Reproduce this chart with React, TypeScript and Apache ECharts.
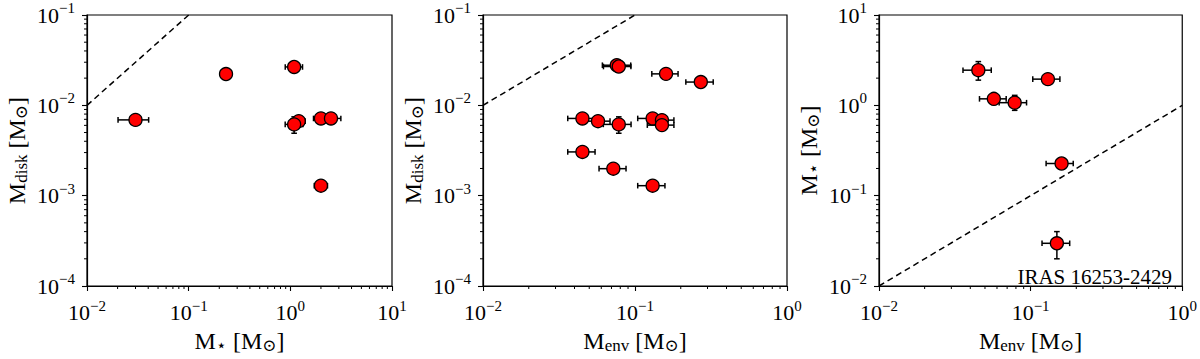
import React, { useEffect, useRef } from "react";
import * as echarts from "echarts";

const FONT = "'Liberation Serif', 'DejaVu Serif', 'Times New Roman', serif";

// ---------- Panel 1: M_star vs M_disk ----------
const P1_MSTAR = [0.03, 0.233, 1.09, 1.21, 1.09, 2.0, 2.51, 2.0];
const P1_MDISK = [0.0069, 0.0222, 0.0266, 0.00668, 0.00615, 0.00716, 0.00716, 0.00129];
const P1_MSTAR_LO = [0.0202, null, 0.891, 1.02, 0.89, 1.69, 2.12, 1.72];
const P1_MSTAR_HI = [0.0404, null, 1.318, 1.4, 1.33, 2.3, 3.14, 2.32];
const P1_MDISK_LO = [null, null, null, null, 0.00491, null, null, 0.00113];
const P1_MDISK_HI = [null, null, null, null, 0.00746, null, null, 0.00147];

// ---------- Panel 2: M_env vs M_disk ----------
const P2_MENV = [0.0759, 0.0782, 0.16, 0.271, 0.0451, 0.0571, 0.0782, 0.1306, 0.1504, 0.1504, 0.0451, 0.072, 0.1306];
const P2_MDISK = [0.0278, 0.0269, 0.0223, 0.0181, 0.00716, 0.00668, 0.00615, 0.00716, 0.00686, 0.00604, 0.00305, 0.00199, 0.00129];
const P2_MENV_LO = [0.061, 0.062, 0.129, 0.216, 0.0361, 0.046, 0.0619, 0.1042, 0.1223, 0.1205, 0.0361, 0.058, 0.1042];
const P2_MENV_HI = [0.0937, 0.094, 0.192, 0.327, 0.0546, 0.0685, 0.0942, 0.1574, 0.1803, 0.1803, 0.0546, 0.0873, 0.1574];
const P2_MDISK_LO = [null, null, null, null, null, null, 0.00491, null, null, null, null, null, 0.00113];
const P2_MDISK_HI = [null, null, null, null, null, null, 0.00746, null, null, null, null, null, 0.00147];

// ---------- Panel 3: M_env vs M_star ----------
const P3_MENV = [0.0452, 0.0572, 0.0785, 0.13, 0.16, 0.149];
const P3_MSTAR = [2.45, 1.18, 1.07, 1.95, 0.227, 0.0297];
const P3_MENV_LO = [0.0358, 0.046, 0.062, 0.1033, 0.1265, 0.1189];
const P3_MENV_HI = [0.055, 0.069, 0.094, 0.156, 0.191, 0.181];
const P3_MSTAR_LO = [1.9, 1.02, 0.88, 1.7, null, 0.02];
const P3_MSTAR_HI = [3.05, 1.35, 1.29, 2.2, null, 0.04];

// one-to-one reference lines
const LINE1 = [[0.01, 0.01], [10, 10]];
const LINE2 = [[0.01, 0.01], [1, 1]];
const LINE3 = [[0.01, 0.01], [1, 1]];

// axis ranges
const P1_X = [0.01, 10];
const P1_Y = [1e-4, 0.1];
const P2_X = [0.01, 1];
const P2_Y = [1e-4, 0.1];
const P3_X = [0.01, 1];
const P3_Y = [0.01, 10];

const ANNOT = "IRAS 16253-2429";

const MINOR_MULTS = [2, 3, 4, 5, 6, 7, 8, 9];

function minorTicks(lo: number, hi: number): number[] {
  const out: number[] = [];
  const e0 = Math.round(Math.log10(lo));
  const e1 = Math.round(Math.log10(hi));
  for (let e = e0; e < e1; e++) {
    for (const m of MINOR_MULTS) out.push(m * Math.pow(10, e));
  }
  return out;
}

const LABEL_RICH = {
  b: { fontSize: 22, fontFamily: FONT, color: "#000", lineHeight: 29 },
  s: { fontSize: 15, fontFamily: FONT, color: "#000", lineHeight: 12, verticalAlign: "top" },
};
const NAME_RICH = {
  m: { fontSize: 24, fontFamily: FONT, color: "#000", lineHeight: 27 },
  sub: { fontSize: 17, fontFamily: FONT, color: "#000", lineHeight: 12, verticalAlign: "bottom" },
};

const logLabel = (v: number) => {
  const e = Math.round(Math.log10(v));
  const t = e < 0 ? "\u2212" + -e : String(e);
  return `{b|10}{s|${t}}`;
};

const nameOf = (sub: string) => `{m|M}{sub|${sub}}{m| [M}{sub|\u2299}{m|]}`;

function makeX(gi: number, range: number[], name: string) {
  const dec = Math.round(Math.log10(range[1] / range[0]));
  return {
    type: "log",
    logBase: 10,
    gridIndex: gi,
    min: range[0],
    max: range[1],
    splitNumber: dec,
    name,
    nameLocation: "middle",
    nameGap: 41,
    nameTextStyle: { rich: NAME_RICH },
    axisLine: { show: true, onZero: false, lineStyle: { color: "#000", width: 1.2 } },
    axisTick: { show: true, inside: false, length: 5, lineStyle: { color: "#000", width: 1.1 } },
    axisLabel: { formatter: logLabel, rich: LABEL_RICH, margin: 12 },
    splitLine: { show: false },
  };
}

function makeY(gi: number, range: number[], name: string) {
  const dec = Math.round(Math.log10(range[1] / range[0]));
  return {
    type: "log",
    logBase: 10,
    gridIndex: gi,
    min: range[0],
    max: range[1],
    splitNumber: dec,
    name,
    nameLocation: "middle",
    nameGap: 57,
    nameTextStyle: { rich: NAME_RICH },
    axisLine: { show: true, onZero: false, lineStyle: { color: "#000", width: 1.2 } },
    axisTick: { show: true, inside: false, length: 5, lineStyle: { color: "#000", width: 1.1 } },
    axisLabel: { formatter: logLabel, rich: LABEL_RICH, margin: 12 },
    splitLine: { show: false },
  };
}

function zipPts(xs: number[], ys: number[]) {
  return xs.map((x, i) => [x, ys[i]]);
}

function zipErr(xs: number[], ys: number[], xl: any[], xh: any[], yl: any[], yh: any[]) {
  return xs.map((x, i) => [x, ys[i], xl[i] ?? x, xh[i] ?? x, yl[i] ?? ys[i], yh[i] ?? ys[i]]);
}

const CAP = 2.8;
const ERR_W = 1.5;

function errSeries(gi: number, data: number[][]) {
  return {
    type: "custom",
    xAxisIndex: gi,
    yAxisIndex: gi,
    silent: true,
    clip: false,
    z: 2,
    data,
    renderItem: (params: any, api: any) => {
      const x = api.value(0);
      const y = api.value(1);
      const xl = api.value(2);
      const xh = api.value(3);
      const yl = api.value(4);
      const yh = api.value(5);
      const children: any[] = [];
      const st = { stroke: "#000", lineWidth: ERR_W };
      if (xl !== xh) {
        const a = api.coord([xl, y]);
        const b = api.coord([xh, y]);
        children.push({ type: "line", shape: { x1: a[0], y1: a[1], x2: b[0], y2: b[1] }, style: st });
        children.push({ type: "line", shape: { x1: a[0], y1: a[1] - CAP, x2: a[0], y2: a[1] + CAP }, style: st });
        children.push({ type: "line", shape: { x1: b[0], y1: b[1] - CAP, x2: b[0], y2: b[1] + CAP }, style: st });
      }
      if (yl !== yh) {
        const a = api.coord([x, yl]);
        const b = api.coord([x, yh]);
        children.push({ type: "line", shape: { x1: a[0], y1: a[1], x2: b[0], y2: b[1] }, style: st });
        children.push({ type: "line", shape: { x1: a[0] - CAP, y1: a[1], x2: a[0] + CAP, y2: a[1] }, style: st });
        children.push({ type: "line", shape: { x1: b[0] - CAP, y1: b[1], x2: b[0] + CAP, y2: b[1] }, style: st });
      }
      return { type: "group", children };
    },
  };
}

function scatterSeries(gi: number, data: number[][]) {
  return {
    type: "scatter",
    xAxisIndex: gi,
    yAxisIndex: gi,
    symbol: "circle",
    symbolSize: 13,
    z: 3,
    silent: true,
    itemStyle: { color: "#ff0000", borderColor: "#000", borderWidth: 1.3, opacity: 1 },
    data,
  };
}

function lineSeries(gi: number, data: number[][]) {
  return {
    type: "line",
    xAxisIndex: gi,
    yAxisIndex: gi,
    symbol: "none",
    silent: true,
    clip: true,
    z: 1,
    lineStyle: { color: "#000", width: 1.5, type: [6, 4] },
    data,
  };
}

function minorXSeries(gi: number, xr: number[], yr: number[]) {
  return {
    type: "custom",
    xAxisIndex: gi,
    yAxisIndex: gi,
    silent: true,
    clip: false,
    z: 1,
    data: minorTicks(xr[0], xr[1]).map((v) => [v, yr[0]]),
    renderItem: (params: any, api: any) => {
      const p = api.coord([api.value(0), api.value(1)]);
      return {
        type: "line",
        shape: { x1: p[0], y1: p[1], x2: p[0], y2: p[1] + 3 },
        style: { stroke: "#000", lineWidth: 1 },
      };
    },
  };
}

function minorYSeries(gi: number, xr: number[], yr: number[]) {
  return {
    type: "custom",
    xAxisIndex: gi,
    yAxisIndex: gi,
    silent: true,
    clip: false,
    z: 1,
    data: minorTicks(yr[0], yr[1]).map((v) => [xr[0], v]),
    renderItem: (params: any, api: any) => {
      const p = api.coord([api.value(0), api.value(1)]);
      return {
        type: "line",
        shape: { x1: p[0] - 3, y1: p[1], x2: p[0], y2: p[1] },
        style: { stroke: "#000", lineWidth: 1 },
      };
    },
  };
}

export default function App() {
  const ref = useRef<HTMLDivElement>(null);

  useEffect(() => {
    if (!ref.current) return;
    const chart = echarts.init(ref.current, undefined, { renderer: "svg" });
    const gridBase = { top: 15, height: 275, show: true, borderColor: "#000", borderWidth: 1.2, backgroundColor: "transparent" };
    chart.setOption({
      animation: false,
      backgroundColor: "#fff",
      grid: [
        { ...gridBase, left: 87, width: 305 },
        { ...gridBase, left: 483, width: 304 },
        { ...gridBase, left: 879, width: 304 },
      ],
      xAxis: [
        makeX(0, P1_X, nameOf("\u22c6")),
        makeX(1, P2_X, nameOf("env")),
        makeX(2, P3_X, nameOf("env")),
      ],
      yAxis: [
        makeY(0, P1_Y, nameOf("disk")),
        makeY(1, P2_Y, nameOf("disk")),
        makeY(2, P3_Y, nameOf("\u22c6")),
      ],
      series: [
        lineSeries(0, LINE1),
        lineSeries(1, LINE2),
        lineSeries(2, LINE3),
        minorXSeries(0, P1_X, P1_Y),
        minorYSeries(0, P1_X, P1_Y),
        minorXSeries(1, P2_X, P2_Y),
        minorYSeries(1, P2_X, P2_Y),
        minorXSeries(2, P3_X, P3_Y),
        minorYSeries(2, P3_X, P3_Y),
        errSeries(0, zipErr(P1_MSTAR, P1_MDISK, P1_MSTAR_LO, P1_MSTAR_HI, P1_MDISK_LO, P1_MDISK_HI)),
        errSeries(1, zipErr(P2_MENV, P2_MDISK, P2_MENV_LO, P2_MENV_HI, P2_MDISK_LO, P2_MDISK_HI)),
        errSeries(2, zipErr(P3_MENV, P3_MSTAR, P3_MENV_LO, P3_MENV_HI, P3_MSTAR_LO, P3_MSTAR_HI)),
        scatterSeries(0, zipPts(P1_MSTAR, P1_MDISK)),
        scatterSeries(1, zipPts(P2_MENV, P2_MDISK)),
        scatterSeries(2, zipPts(P3_MENV, P3_MSTAR)),
      ],
      graphic: [
        {
          type: "text",
          x: 1172,
          y: 287,
          silent: true,
          style: {
            text: ANNOT,
            fontSize: 21,
            fontFamily: FONT,
            fill: "#000",
            align: "right",
            verticalAlign: "bottom",
          },
        },
      ],
    });
    return () => chart.dispose();
  }, []);

  return (
    <div
      ref={ref}
      style={{ position: "fixed", left: 0, top: 0, width: 1200, height: 359, background: "#fff" }}
    />
  );
}
